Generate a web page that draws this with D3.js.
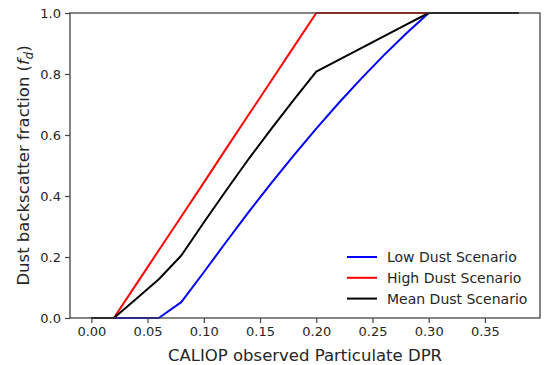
<!DOCTYPE html>
<html>
<head>
<meta charset="utf-8">
<script src="https://cdn.jsdelivr.net/npm/d3@7"></script>
<style>
  body { margin: 0; background: #fff; }
  svg { display: block; font-family: "DejaVu Sans", sans-serif; }
</style>
</head>
<body>
<svg class="chart" width="545" height="365"></svg>
<script>
// observed DPR sample points
const dpr = [0.00, 0.02, 0.04, 0.06, 0.08, 0.10, 0.12, 0.14, 0.16, 0.18,
  0.20, 0.22, 0.24, 0.26, 0.28, 0.30, 0.32, 0.34, 0.36, 0.38];
const lowDust = [0, 0, 0, 0, 0.052, 0.15, 0.25, 0.348, 0.442, 0.533,
  0.621, 0.705, 0.785, 0.861, 0.933, 1, 1, 1, 1, 1];
const highDust = [0, 0, 0.111, 0.222, 0.333, 0.444, 0.556, 0.667, 0.778, 0.889,
  1, 1, 1, 1, 1, 1, 1, 1, 1, 1];
const meanDust = [0, 0, 0.063, 0.127, 0.205, 0.313, 0.419, 0.522, 0.62, 0.715,
  0.808, 0.846, 0.885, 0.923, 0.962, 1, 1, 1, 1, 1];
const seriesNames = ['Low Dust Scenario', 'High Dust Scenario', 'Mean Dust Scenario'];
const seriesColors = ['#0000ff', '#ff0000', '#000000'];
const xTicks = [0, 0.05, 0.1, 0.15, 0.2, 0.25, 0.3, 0.35];
const yTicks = [0, 0.2, 0.4, 0.6, 0.8, 1.0];

const [width, height] = [545, 365];
const margin = { top: 13, right: 5, bottom: 47, left: 70 };
const svg = d3.select('.chart');

const x = d3.scaleLinear().domain([-0.019, 0.399]).range([margin.left, width - margin.right]);
const y = d3.scaleLinear().domain([0, 1]).range([height - margin.bottom, margin.top]);

const series = [lowDust, highDust, meanDust].map((vals, i) => ({
  name: seriesNames[i],
  color: seriesColors[i],
  points: dpr.map((d, j) => [d, vals[j]]),
}));

const line = d3.line().x((d) => x(d[0])).y((d) => y(d[1]));

svg.append('g')
  .selectAll('path')
  .data(series)
  .enter()
  .append('path')
  .attr('fill', 'none')
  .attr('stroke', (d) => d.color)
  .attr('stroke-width', 2)
  .attr('stroke-linejoin', 'round')
  .attr('d', (d) => line(d.points));

// axes
const xAxis = svg.append('g')
  .attr('transform', `translate(0,${y(0)})`)
  .call(d3.axisBottom(x).tickValues(xTicks).tickFormat(d3.format('.2f')).tickSizeInner(5).tickSizeOuter(0).tickPadding(4));
const yAxis = svg.append('g')
  .attr('transform', `translate(${x.range()[0]},0)`)
  .call(d3.axisLeft(y).tickValues(yTicks).tickFormat(d3.format('.1f')).tickSizeInner(5).tickSizeOuter(0).tickPadding(4));

[xAxis, yAxis].forEach((ax) => {
  ax.select('.domain').remove();
  ax.selectAll('line').attr('stroke', '#444').attr('stroke-width', 1.2);
  ax.selectAll('text').attr('fill', '#262626').style('font-size', '13px').style('font-family', '"DejaVu Sans", sans-serif');
});

// frame
svg.append('rect')
  .attr('x', x.range()[0])
  .attr('y', y.range()[1])
  .attr('width', x.range()[1] - x.range()[0])
  .attr('height', y.range()[0] - y.range()[1])
  .attr('fill', 'none')
  .attr('stroke', '#444')
  .attr('stroke-width', 1.3);

// axis labels
svg.append('text')
  .attr('x', (x.range()[0] + x.range()[1]) / 2)
  .attr('y', 361)
  .attr('text-anchor', 'middle')
  .attr('fill', '#262626')
  .style('font-size', '16.5px')
  .text('CALIOP observed Particulate DPR');

const yLabel = svg.append('text')
  .attr('transform', `translate(29,${(y.range()[0] + y.range()[1]) / 2}) rotate(-90)`)
  .attr('text-anchor', 'middle')
  .attr('fill', '#262626')
  .style('font-size', '16.5px');
yLabel.append('tspan').text('Dust backscatter fraction (');
yLabel.append('tspan').style('font-style', 'italic').text('f');
yLabel.append('tspan').attr('dy', 4).style('font-size', '11.5px').style('font-style', 'italic').text('d');
yLabel.append('tspan').attr('dy', -4).text(')');

// legend
const legend = svg.append('g').attr('transform', 'translate(347,257)');
const item = legend.selectAll('g')
  .data(series)
  .enter()
  .append('g')
  .attr('transform', (d, i) => `translate(0,${i * 20.8})`);
item.append('line')
  .attr('x1', 0).attr('x2', 30)
  .attr('stroke', (d) => d.color)
  .attr('stroke-width', 2);
item.append('text')
  .attr('x', 40)
  .attr('dy', '0.35em')
  .attr('fill', '#262626')
  .style('font-size', '14px')
  .text((d) => d.name);
</script>
</body>
</html>
